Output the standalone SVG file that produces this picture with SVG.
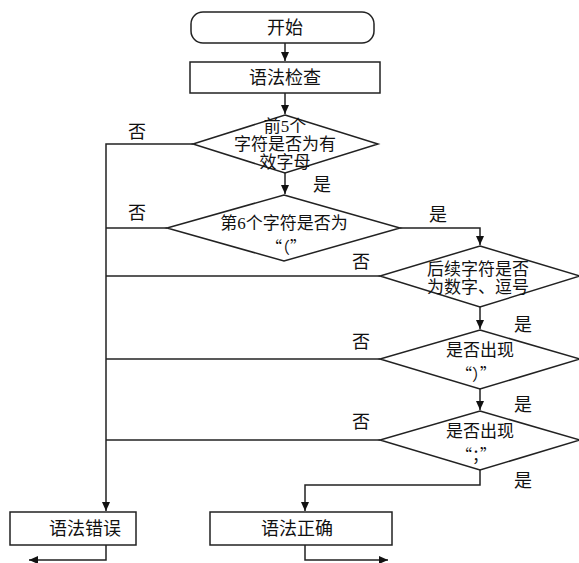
<svg xmlns="http://www.w3.org/2000/svg" width="579" height="563" viewBox="0 0 579 563">
<style>
.s{fill:#fff;stroke:#222;stroke-width:1.5}
.l{fill:none;stroke:#222;stroke-width:1.5}
text{font-family:"Liberation Serif","Noto Sans CJK SC",serif;font-size:18px;fill:#111;text-anchor:middle}
.d{font-size:17px}
.q{font-family:"Noto Sans CJK SC","Liberation Serif",serif;font-size:16px}
</style>
<defs>
<marker id="a" markerWidth="10" markerHeight="10" refX="9" refY="5" orient="auto" markerUnits="userSpaceOnUse">
<path d="M0,1 L9,5 L0,9 Z" fill="#111"/>
</marker>
</defs>
<rect width="579" height="563" fill="#fff"/>
<g id="connectors">
<path class="l" d="M285,43 V61" marker-end="url(#a)"/>
<path class="l" d="M285,93 V114" marker-end="url(#a)"/>
<path class="l" d="M285,173 V194" marker-end="url(#a)"/>
<path class="l" d="M400,228 H480 V245" marker-end="url(#a)"/>
<path class="l" d="M480,307 V329" marker-end="url(#a)"/>
<path class="l" d="M480,389 V410" marker-end="url(#a)"/>
<path class="l" d="M480,470 V485 H305 V511" marker-end="url(#a)"/>
<path class="l" d="M193,144 H106 V511" marker-end="url(#a)"/>
<path class="l" d="M167,228 H106"/>
<path class="l" d="M380,276 H106"/>
<path class="l" d="M380,359 H106"/>
<path class="l" d="M380,440 H106"/>
<path class="l" d="M106,545 V560 H29" marker-end="url(#a)"/>
<path class="l" d="M305,545 V560 H388" marker-end="url(#a)"/>
<text x="137" y="138">否</text>
<text x="137" y="219">否</text>
<text x="361" y="268">否</text>
<text x="361" y="348">否</text>
<text x="361" y="428">否</text>
<text x="322" y="191">是</text>
<text x="438" y="221">是</text>
<text x="523" y="331">是</text>
<text x="523" y="411">是</text>
<text x="523" y="487">是</text>
</g>
<g id="start">
<rect class="s" x="191" y="12" width="183" height="31" rx="12"/>
<text x="285" y="34">开始</text>
</g>
<g id="check">
<rect class="s" x="190" y="62" width="190" height="31"/>
<text x="285" y="84">语法检查</text>
</g>
<g id="d1">
<polygon class="s" points="285,115 378,144 285,173 193,144"/>
<text class="d" x="285" y="132">前5个</text>
<text class="d" x="285" y="150">字符是否为有</text>
<text class="d" x="285" y="168">效字母</text>
</g>
<g id="d2">
<polygon class="s" points="284,195 400,228 284,261 167,228"/>
<text class="d" x="284" y="229">第6个字符是否为</text>
<text class="q" x="286" y="253">“（”</text>
</g>
<g id="d3">
<polygon class="s" points="480,246 580,276 480,307 380,276"/>
<text class="d" x="478" y="275">后续字符是否</text>
<text class="d" x="478" y="293">为数字、逗号</text>
</g>
<g id="d4">
<polygon class="s" points="480,330 580,359 480,389 380,359"/>
<text class="d" x="480" y="356">是否出现</text>
<text class="q" x="476" y="380">“）”</text>
</g>
<g id="d5">
<polygon class="s" points="480,411 580,440 480,470 380,440"/>
<text class="d" x="480" y="437">是否出现</text>
<text class="q" x="476" y="461">“；”</text>
</g>
<g id="err">
<rect class="s" x="10" y="512" width="126" height="33"/>
<text x="85" y="535">语法错误</text>
</g>
<g id="ok">
<rect class="s" x="210" y="512" width="182" height="33"/>
<text x="297" y="535">语法正确</text>
</g>
</svg>
